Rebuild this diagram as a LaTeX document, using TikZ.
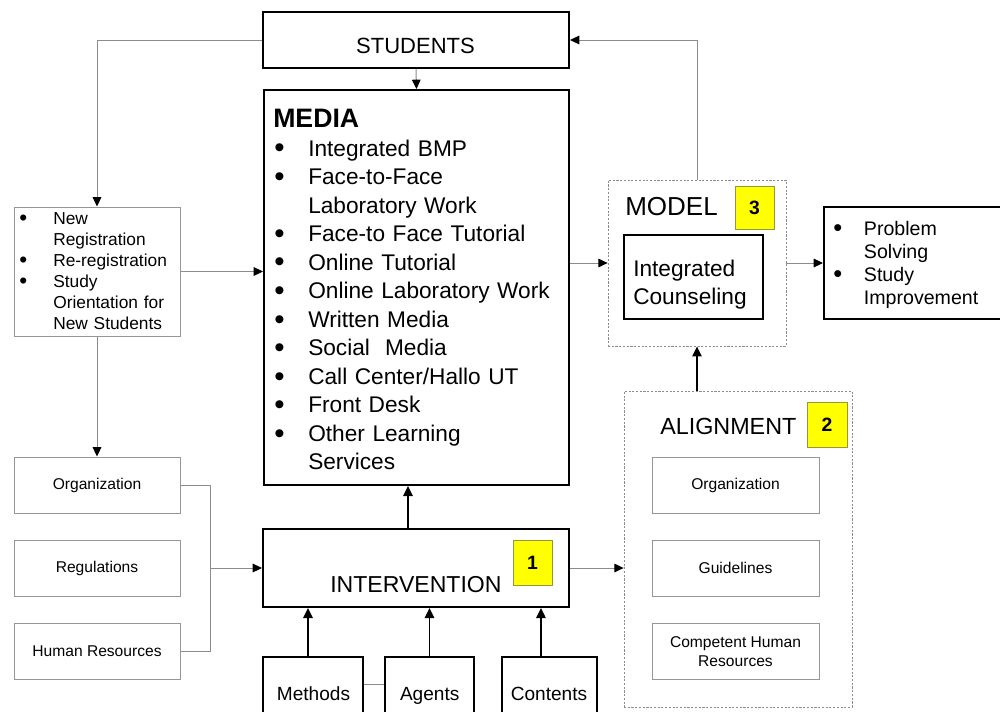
\documentclass[tikz,border=0pt]{standalone}
\usepackage{fontspec}
\usepackage{graphicx}
\setmainfont{Liberation Sans}
\usetikzlibrary{arrows.meta}
\definecolor{lgray}{RGB}{140,140,140}
\definecolor{bgray}{RGB}{150,150,150}
\definecolor{ybox}{RGB}{255,255,0}
\definecolor{yedge}{RGB}{150,150,60}
\newcommand\fsz[2]{\fontsize{#1}{#2}\selectfont}
\newcommand\bul[1]{\makebox[#1][l]{\raisebox{-0.08em}{\scalebox{1.3}{•}}}}
\tikzset{
  heavybox/.style={draw=black, line width=1.5pt, inner sep=0pt},
  lightbox/.style={draw=bgray, line width=0.75pt, inner sep=0pt, font=\fsz{11.7}{14}},
  dashbox/.style={draw=lgray, line width=0.6pt, dash pattern=on 1.6pt off 1.2pt, inner sep=0pt},
  numbox/.style={draw=yedge, fill=ybox, line width=0.6pt, inner sep=0pt, font=\fsz{14.5}{16}\bfseries},
  glink/.style={draw=lgray, line width=0.75pt, -{Triangle[length=7pt,width=6.5pt,color=black]}},
  gline/.style={draw=lgray, line width=0.75pt},
  blink/.style={draw=black, line width=1.2pt, -{Triangle[length=7.5pt,width=7pt]}},
  listtext/.style={anchor=base west, align=left, inner sep=0pt}
}
\begin{document}
\begin{tikzpicture}[x=0.75pt,y=-0.75pt]
\clip (0,0) rectangle (1000,711);
\fill[white] (0,0) rectangle (1000,711);

% main boxes
\node[heavybox, minimum width=229.5pt, minimum height=42pt] (students) at (416,40) {};
\node[anchor=base, inner sep=0pt, font=\fsz{16.5}{20}] (studentslbl) at (415.5,53) {STUDENTS};

\node[heavybox, minimum width=228.75pt, minimum height=296.25pt] (media) at (416.5,287.5) {};
\node[anchor=base west, inner sep=0pt, font=\fsz{20}{24}\bfseries] (medialbl) at (273,127) {MEDIA};
\node[listtext, text width=215pt, font=\fsz{17}{21.4}] (medialist) at (274,156)
 {\bul{25.5pt}Integrated BMP\\
  \bul{25.5pt}Face-to-Face\\
  \hspace*{25.5pt}Laboratory Work\\
  \bul{25.5pt}Face-to Face Tutorial\\
  \bul{25.5pt}Online Tutorial\\
  \bul{25.5pt}Online Laboratory Work\\
  \bul{25.5pt}Written Media\\
  \bul{25.5pt}Social\ \ Media\\
  \bul{25.5pt}Call Center/Hallo UT\\
  \bul{25.5pt}Front Desk\\
  \bul{25.5pt}Other Learning\\
  \hspace*{25.5pt}Services};

\node[heavybox, minimum width=229.5pt, minimum height=58.5pt] (interv) at (416,568) {};
\node[anchor=base west, inner sep=0pt, font=\fsz{17.3}{20}] (intervlbl) at (330,592) {INTERVENTION};
\node[numbox, minimum width=29.25pt, minimum height=33.75pt] (one) at (532.5,562.5) {1};

\node[heavybox, minimum width=75pt, minimum height=54.75pt] (methods) at (313,693.5) {};
\node[heavybox, minimum width=66.75pt, minimum height=54.75pt] (agents) at (429.5,693.5) {};
\node[heavybox, minimum width=71.25pt, minimum height=54.75pt] (contents) at (549.5,693.5) {};
\node[anchor=base, inner sep=0pt, font=\fsz{14.3}{17}] (methodslbl) at (313.5,700) {Methods};
\node[anchor=base, inner sep=0pt, font=\fsz{14.3}{17}] (agentslbl) at (429.7,700) {Agents};
\node[anchor=base, inner sep=0pt, font=\fsz{14.3}{17}] (contentslbl) at (549,700) {Contents};

% left side
\node[lightbox, minimum width=124.5pt, minimum height=96.75pt] (newreg) at (97,271.5) {};
\node[listtext, text width=122pt, font=\fsz{13}{15.75}] (newreglist) at (19,224)
 {\bul{25.5pt}New\\
  \hspace*{25.5pt}Registration\\
  \bul{25.5pt}Re-registration\\
  \bul{25.5pt}Study\\
  \hspace*{25.5pt}Orientation for\\
  \hspace*{25.5pt}New Students};
\node[lightbox, minimum width=124.5pt, minimum height=42pt] (org) at (97,485) {Organization};
\node[lightbox, minimum width=124.5pt, minimum height=42pt] (reg) at (97,568) {Regulations};
\node[lightbox, minimum width=124.5pt, minimum height=42pt] (hr) at (97,651) {Human Resources};
\coordinate (join) at (210,568);

% model
\node[dashbox, minimum width=133.5pt, minimum height=124.5pt] (model) at (697,263) {};
\node[anchor=base west, inner sep=0pt, font=\fsz{19.5}{23}] (modellbl) at (625,215) {MODEL};
\node[numbox, minimum width=29.25pt, minimum height=32.25pt] (three) at (754.5,207.5) {3};
\node[heavybox, minimum width=104.25pt, minimum height=63pt] (counsel) at (693.5,277) {};
\node[listtext, text width=100pt, font=\fsz{17}{21}] (counsellbl) at (633,276) {Integrated\\Counseling};

\node[heavybox, minimum width=139.5pt, minimum height=84pt] (outcome) at (917,263) {};
\node[listtext, text width=125pt, font=\fsz{14.7}{17.25}] (outcomelist) at (833,235)
 {\bul{23pt}Problem\\
  \hspace*{23pt}Solving\\
  \bul{23pt}Study\\
  \hspace*{23pt}Improvement};

% alignment
\node[dashbox, minimum width=171pt, minimum height=237pt] (align) at (738,549) {};
\node[anchor=base west, inner sep=0pt, font=\fsz{17.5}{21}] (alignlbl) at (660,434) {ALIGNMENT};
\node[numbox, minimum width=30pt, minimum height=33.75pt] (two) at (827,424.5) {2};
\node[lightbox, minimum width=125.25pt, minimum height=42pt] (aorg) at (735.5,485) {Organization};
\node[lightbox, minimum width=125.25pt, minimum height=42pt] (aguide) at (735.5,568) {Guidelines};
\node[lightbox, minimum width=125.25pt, minimum height=42pt, align=center, font=\fsz{11.7}{14}] (acomp) at (735.5,651.5) {Competent Human\\Resources};

% connectors
\draw[glink] (students.west) -| (newreg.north);
\draw[glink] (students.south) -- (media.north);
\draw[glink] (newreg.east) -- (newreg.east -| media.west);
\draw[glink] (newreg.south) -- (org.north);
\draw[gline] (org.east) -- (org.east -| join) -- (hr.east -| join) -- (hr.east);
\draw[glink] (join) -- (join -| interv.west);
\draw[glink] (media.east |- model.west) -- (model.west);
\draw[glink] (model.east) -- (outcome.west);
\draw[glink] (model.north) -- (model.north |- students.east) -- (students.east);
\draw[glink] (interv.east) -- (interv.east -| align.west);
\draw[blink] (model.south |- align.north) -- (model.south);
\draw[blink] ([xshift=-6pt]interv.north) -- ([xshift=-6pt]interv.north |- media.south);
\draw[blink] ([xshift=-3.75pt]methods.north) -- ([xshift=-3.75pt]methods.north |- interv.south);
\draw[blink] (agents.north) -- (agents.north |- interv.south);
\draw[blink] ([xshift=-6.4pt]contents.north) -- ([xshift=-6.4pt]contents.north |- interv.south);
\draw[gline] ([yshift=7pt]methods.east) -- ([yshift=7pt]agents.west);
\end{tikzpicture}
\end{document}
